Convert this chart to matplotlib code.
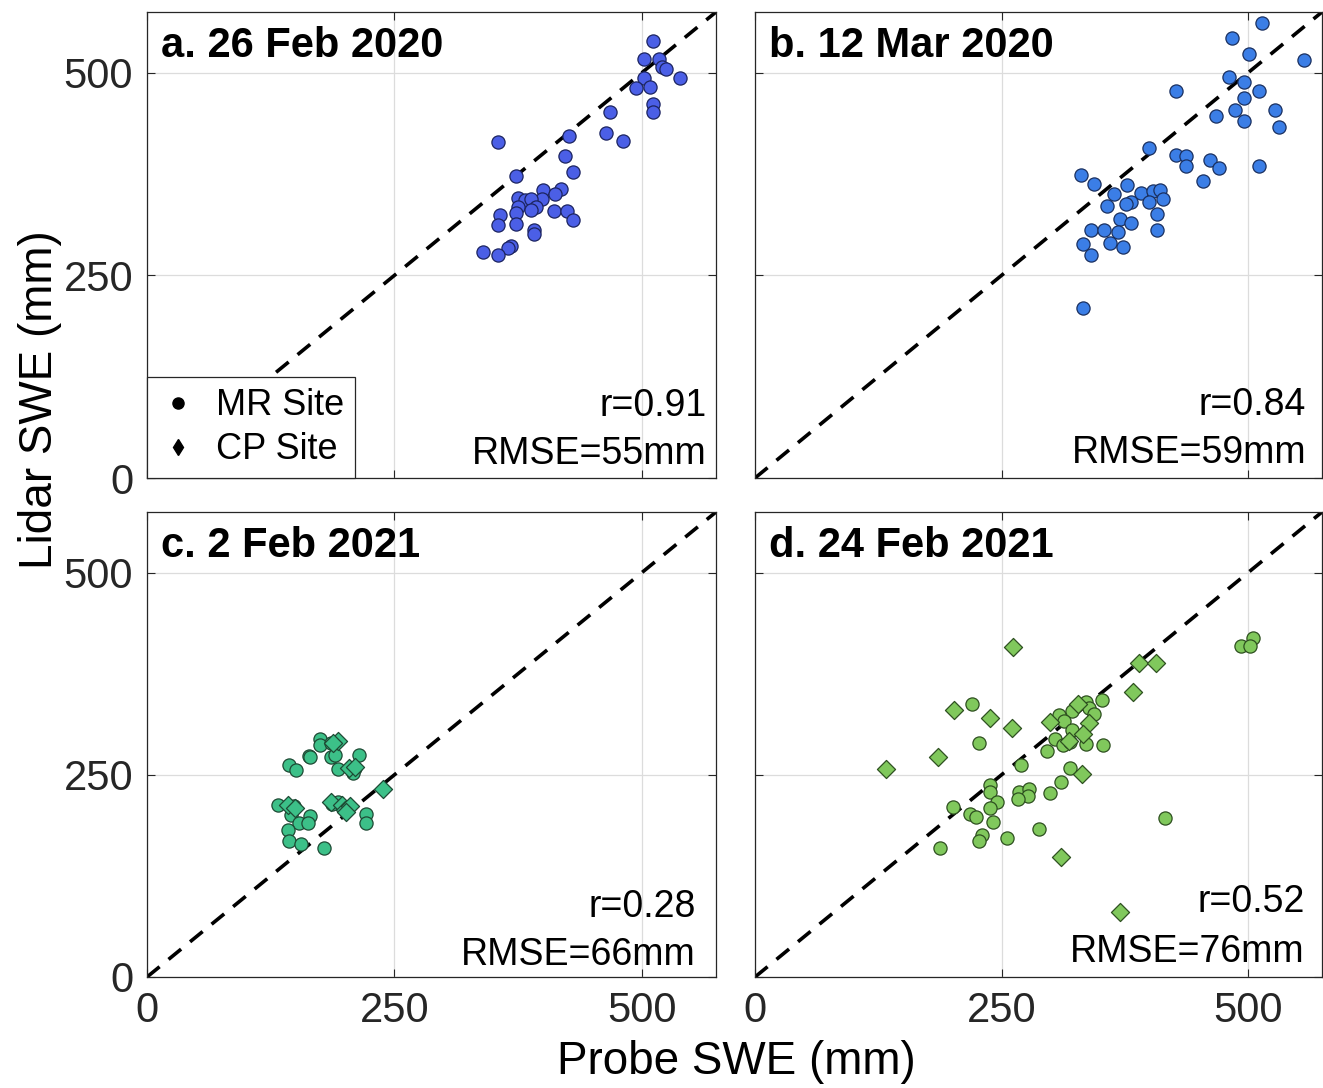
import matplotlib
matplotlib.use("Agg")
import matplotlib.pyplot as plt
from matplotlib.lines import Line2D

plt.rcParams['font.family'] = ['Liberation Sans', 'DejaVu Sans']

# ---------------- data ----------------
panel_titles = ["a. 26 Feb 2020", "b. 12 Mar 2020", "c. 2 Feb 2021", "d. 24 Feb 2021"]
r_values = ["0.91", "0.84", "0.28", "0.52"]
rmse_values = ["55", "59", "66", "76"]
ticks = [0, 250, 500]
legend_labels = ["MR Site", "CP Site"]

# Panel a: MR site only
a_mr_x = [511, 502, 517, 520, 524, 539, 502, 494, 508, 511, 511, 468, 464, 481, 426, 355,
          422, 430, 373, 418, 400, 412, 399, 375, 382, 388, 393, 375, 388, 373, 411, 424,
          357, 430, 355, 373, 391, 391, 368, 365, 340, 355]
a_mr_y = [539, 517, 517, 507, 505, 493, 493, 481, 482, 462, 451, 451, 426, 416, 422, 415,
          397, 378, 373, 356, 355, 350, 344, 345, 343, 344, 334, 334, 331, 327, 330, 330,
          324, 318, 312, 313, 306, 301, 286, 284, 279, 275]

# Panel b: MR site only
b_mr_x = [514, 484, 501, 557, 481, 496, 427, 511, 496, 487, 527, 467, 496, 531, 400, 427,
          437, 437, 461, 471, 511, 454, 331, 344, 377, 364, 391, 404, 411, 414, 400, 381,
          376, 357, 408, 370, 381, 341, 354, 368, 408, 333, 360, 373, 341, 333]
b_mr_y = [561, 543, 523, 516, 495, 489, 477, 477, 469, 454, 454, 447, 441, 433, 407, 398,
          397, 385, 392, 382, 385, 366, 374, 363, 361, 351, 352, 354, 355, 344, 341, 340,
          338, 336, 326, 320, 315, 306, 306, 304, 306, 289, 290, 285, 275, 210]

# Panel c
c_mr_x = [175, 175, 186, 164, 165, 186, 190, 214, 144, 151, 193, 210, 208, 132, 149, 146,
          165, 154, 163, 221, 221, 142, 144, 156, 179, 193, 187]
c_mr_y = [294, 287, 289, 273, 272, 272, 274, 274, 262, 256, 257, 258, 252, 213, 211, 200,
          199, 190, 191, 201, 190, 182, 168, 164, 160, 217, 214]
c_cp_x = [193, 188, 204, 210, 238, 142, 150, 186, 197, 200, 205, 201]
c_cp_y = [292, 289, 258, 260, 233, 213, 209, 216, 213, 207, 212, 204]

# Panel d
d_mr_x = [505, 493, 502, 352, 336, 339, 344, 321, 308, 313, 321, 304, 312, 319, 336, 353,
          296, 220, 227, 270, 319, 310, 238, 238, 268, 278, 277, 267, 299, 245, 238, 201,
          218, 224, 241, 288, 230, 227, 256, 188, 416]
d_mr_y = [419, 409, 409, 343, 340, 333, 325, 329, 324, 317, 306, 294, 287, 291, 288, 287,
          280, 338, 289, 262, 259, 241, 238, 229, 229, 233, 224, 220, 227, 216, 209, 210,
          201, 198, 192, 183, 175, 168, 172, 159, 197]
d_cp_x = [262, 389, 407, 383, 328, 202, 238, 299, 339, 261, 333, 318, 186, 133, 332, 310, 370]
d_cp_y = [408, 388, 388, 352, 338, 330, 320, 315, 314, 308, 300, 292, 272, 257, 251, 148, 80]

mr_x = [a_mr_x, b_mr_x, c_mr_x, d_mr_x]
mr_y = [a_mr_y, b_mr_y, c_mr_y, d_mr_y]
cp_x = [[], [], c_cp_x, d_cp_x]
cp_y = [[], [], c_cp_y, d_cp_y]

# ---------------- style ----------------
face_colors = ["#4b5fe6", "#3b7ee6", "#3cc088", "#80c85c"]
edge_colors = ["#1c2460", "#1a3060", "#1e4a34", "#2e5020"]
LIM = 575

fig = plt.figure(figsize=(13.23, 10.88), dpi=100)
W, H = 1323.0, 1088.0
boxes = [(147, 12, 716, 478), (755, 12, 1322, 478), (147, 512, 716, 977), (755, 512, 1322, 977)]
text_pos = [(0.984, 0.133, 0.030), (0.972, 0.135, 0.032), (0.965, 0.129, 0.026), (0.970, 0.140, 0.032)]

axes = []
for i, (l, t, r, b) in enumerate(boxes):
    ax = fig.add_axes([l / W, 1 - b / H, (r - l) / W, (b - t) / H])
    axes.append(ax)
    ax.set_xlim(0, LIM)
    ax.set_ylim(0, LIM)
    ax.set_xticks(ticks)
    ax.set_yticks(ticks)
    ax.grid(True, color="#dcdcdc", linewidth=0.9)
    ax.set_axisbelow(True)
    ax.plot([0, LIM], [0, LIM], linestyle=(0, (4.5, 3.2)), color="black", linewidth=2.6, zorder=2)
    ax.scatter(mr_x[i], mr_y[i], s=90, marker="o", facecolor=face_colors[i],
               edgecolor=edge_colors[i], linewidth=0.9, zorder=3)
    if len(cp_x[i]):
        ax.scatter(cp_x[i], cp_y[i], s=85, marker="D", facecolor=face_colors[i],
                   edgecolor=edge_colors[i], linewidth=0.9, zorder=3)
    ax.tick_params(direction="in", length=6, width=0.8, top=True, right=True,
                   labelsize=30, colors="#262626", pad=10)
    for sp in ax.spines.values():
        sp.set_color("#262626")
        sp.set_linewidth(0.9)
    if i in (0, 1):
        ax.tick_params(labelbottom=False)
    if i in (1, 3):
        ax.tick_params(labelleft=False)
    ax.text(0.025, 0.903, panel_titles[i], transform=ax.transAxes, fontsize=30,
            fontweight="bold", ha="left", va="baseline", zorder=5)
    tx, ry, ey = text_pos[i]
    ax.text(tx, ry, "r=" + r_values[i], transform=ax.transAxes, fontsize=27,
            ha="right", va="baseline", zorder=5)
    ax.text(tx, ey, "RMSE=" + rmse_values[i] + "mm", transform=ax.transAxes, fontsize=27,
            ha="right", va="baseline", zorder=5)

handles = [Line2D([], [], marker="o", color="black", linestyle="none", markersize=8),
           Line2D([], [], marker="d", color="black", linestyle="none", markersize=8)]
leg = axes[0].legend(handles, legend_labels, loc="lower left", bbox_to_anchor=(0, 0),
                     borderaxespad=0, fontsize=26, fancybox=False, frameon=True, framealpha=1,
                     handletextpad=0.5, handlelength=1.1, borderpad=0.3, labelspacing=0.25)
leg.get_frame().set_edgecolor("#262626")
leg.get_frame().set_linewidth(0.9)
leg.set_zorder(6)

fig.text(40 / W, 1 - 400 / H, "Lidar SWE (mm)", rotation=90, fontsize=33,
         ha="center", va="center")
fig.text(736 / W, 1 - 1062 / H, "Probe SWE (mm)", fontsize=33, ha="center", va="center")

fig.savefig("out.png", dpi=100)
